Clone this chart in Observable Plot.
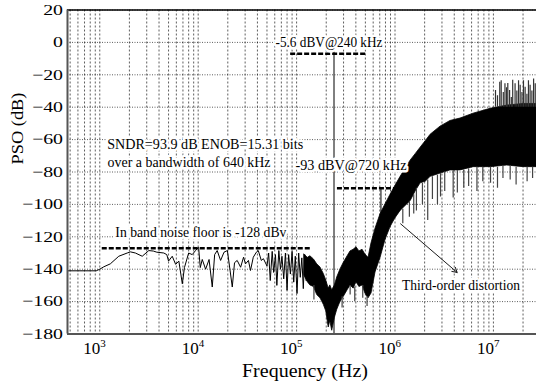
<!DOCTYPE html>
<html><head><meta charset="utf-8">
<script src="https://cdn.jsdelivr.net/npm/d3@7"></script>
<script src="https://cdn.jsdelivr.net/npm/@observablehq/plot@0.6"></script>
<style>body{margin:0;background:#fff}svg{display:block}svg text{font-family:"Liberation Serif","Times New Roman",serif !important;}</style>
</head><body><div id="chart"></div>
<script>
// ---- axes ----
const xDomain = [470, 2.74e7];
const yDomain = [-180, 20];
const xTickValues = [1e3, 1e4, 1e5, 1e6, 1e7];
const yTickValues = [-180, -160, -140, -120, -100, -80, -60, -40, -20, 0, 20];

// ---- low-frequency single trace (Hz, dB) ----
const lineF  = [470, 600, 800, 920, 1000, 1100, 1280, 1560, 1900, 2050, 2300, 2700, 3150, 3500, 3800, 4470, 4800, 5000, 5450, 5900, 6360, 6900, 7250, 8000, 8700, 9400, 10100, 10500, 11000, 11900, 12900, 13900, 14700, 15600, 16900, 18300, 19800, 20800, 22200, 23400, 24900, 27000, 28900, 30300, 32400, 34000, 36300, 39000, 40800, 43800, 46000, 50000, 52000, 54000, 56500, 58500, 61000, 63000, 66000, 68500, 71000, 74000, 77000, 80000, 83000, 86500, 90000, 93500, 97000, 101000, 105000, 109000, 113000, 117000, 121000, 125000];
const lineDb = [-141, -141, -141, -141, -140, -138.5, -136.7, -132, -130, -129.3, -130, -132, -128.5, -128.8, -129.5, -130, -131, -135, -132, -137, -135, -149, -139, -130, -131, -128.5, -126.5, -139, -134, -140, -134, -151, -131, -128.5, -134.6, -129.5, -128.5, -138, -151, -136, -134.6, -138.8, -132.6, -136.7, -134.6, -140.8, -132.6, -129.5, -128.5, -134.6, -133.5, -138, -130, -147, -129, -142, -131, -150, -128.5, -140, -132, -146, -130, -153, -131, -143, -129, -148, -132, -155, -130, -145, -133, -152, -131, -147];

// ---- dense spectrum band: frequency, upper and lower envelope (dB) ----
const bandF  = [1.2e5, 1.3e5, 1.38e5, 1.5e5, 1.62e5, 1.75e5, 1.89e5, 2.0e5, 2.12e5, 2.2e5, 2.3e5, 2.45e5, 2.59e5, 2.8e5, 3.02e5, 3.3e5, 3.53e5, 3.8e5, 4.06e5, 4.35e5, 4.68e5, 5.0e5, 5.38e5, 5.77e5, 6.34e5, 7.13e5, 8.0e5, 9.01e5, 1.0e6, 1.14e6, 1.28e6, 1.44e6, 1.62e6, 1.82e6, 2.05e6, 2.3e6, 2.58e6, 2.9e6, 3.66e6, 4.63e6, 6.28e6, 9.35e6, 1.38e7, 2.02e7, 2.74e7];
const bandHi = [-131, -133, -132, -134, -137, -139, -143, -147, -152, -150, -153, -150, -145, -140, -136, -132, -129, -128, -126.5, -129, -128, -131, -133, -124, -115, -106, -100, -94, -89, -83, -78, -73, -69, -65, -61, -57, -54.5, -52, -48.5, -47, -44, -41, -39, -38, -38];
const bandLo = [-144, -148, -150, -151, -156, -158, -162, -166, -176, -172, -178, -170, -165, -160, -157, -153, -150, -152, -148, -151, -150, -155, -158, -155, -142, -133, -122, -114, -109, -104, -101, -98, -92, -87, -86, -83, -82, -81, -79, -79, -77, -77, -76, -77, -77];

// ---- downward spikes (Hz, from dB, to dB) ----
const downF    = [1.5e5, 2.9e5, 3.5e5, 3.9e5, 4.7e5, 5.2e5, 1.2e6, 1.4e6, 1.55e6, 1.65e6, 1.9e6, 2.15e6, 2.4e6, 2.7e6, 2.9e6, 3.2e6, 3.9e6, 4.3e6, 5.0e6, 5.6e6, 6.8e6, 7.8e6, 9.35e6, 1.1e7, 1.25e7, 1.48e7, 1.7e7, 2.2e7, 2.5e7];
const downFrom = [-150, -157, -150, -151, -150, -157, -103, -98, -94, -90, -87, -85, -83, -82, -81, -80, -79, -79, -79, -78, -77, -77, -77, -77, -76, -76, -77, -77, -77];
const downTo   = [-159, -164, -156, -160, -158, -163, -112, -108, -106, -104, -100, -110, -97, -100, -95.5, -92, -96, -93, -90, -89, -92, -86, -87, -90, -84, -85, -88, -86, -84];

// ---- upward spikes at high frequency (Hz, top dB) ----
const upF   = [1.05e7, 1.1e7, 1.16e7, 1.2e7, 1.26e7, 1.31e7, 1.36e7, 1.4e7, 1.46e7, 1.52e7, 1.57e7, 1.66e7, 1.73e7, 1.8e7, 1.87e7, 1.95e7, 2.02e7, 2.1e7, 2.19e7, 2.27e7, 2.36e7, 2.46e7, 2.56e7, 2.66e7];
const upTop = [-29.7, -33, -24.6, -23.7, -31, -25.6, -28, -25.3, -29.7, -34, -23.3, -25.6, -30, -23.7, -26.5, -31, -23.7, -27.7, -32, -23.7, -26.5, -30, -22.6, -25.6];

// ---- tones (Hz, top dB) ----
const toneF   = [2.4e5, 7.2e5];
const toneTop = [-6, -90];
const toneBot = [-180, -106];

// ---- dashed reference levels (dB, from Hz, to Hz) ----
const dashDb = [-127, -7, -90];
const dashF1 = [1.06e3, 8.7e4, 2.6e5];
const dashF2 = [1.44e5, 5.2e5, 1.04e6];

// ---- annotation texts (label, Hz at left edge, dB) ----
const noteText = ["SNDR=93.9 dB ENOB=15.31 bits", "over a bandwidth of 640 kHz", "-5.6 dBV@240 kHz", "-93 dBV@720 kHz", "In band noise floor is -128 dBv", "Third-order distortion"];
const noteF  = [1.19e3, 1.2e3, 6.1e4, 9.75e4, 1.44e3, 1.18e6];
const noteDb = [-63, -73.6, 0, -76, -117.3, -149.5];
const noteW  = [196, 163, 107, 111, 171, 118];

// ---- arrow (Hz, dB) ----
const arrowFrom = [1.14e6, -112];
const arrowTo   = [4.28e6, -142];

const xTitle = "Frequency (Hz)";
const yTitle = "PSO (dB)";

// build tables
const lineData = lineF.map((f, i) => ({f, db: lineDb[i]}));
const band = bandF.map((f, i) => ({f, hi: bandHi[i], lo: bandLo[i]}));
const downs = downF.map((f, i) => ({f, a: downFrom[i], b: downTo[i]}));
const ups = upF.map((f, i) => ({f, t: upTop[i]}));
const tones = toneF.map((f, i) => ({f, t: toneTop[i], b: toneBot[i]}));
const dashes = dashDb.map((d, i) => ({d, f1: dashF1[i], f2: dashF2[i]}));
const notes = noteText.map((t, i) => ({t, f: noteF[i], d: noteDb[i]}));

const xGridTicks = [];
for (let k = 2; k <= 7; k++) for (let m = 1; m <= 9; m++) {
  const v = m * Math.pow(10, k);
  if (v >= xDomain[0] && v <= xDomain[1]) xGridTicks.push(v);
}

const chart = Plot.plot({
  width: 536, height: 384,
  marginLeft: 67, marginRight: 0, marginTop: 9.5, marginBottom: 50.5,
  style: {fontFamily: "Liberation Serif", background: "#fff", color: "#000"},
  x: {type: "log", domain: xDomain},
  y: {domain: yDomain},
  marks: [
    Plot.gridX(xGridTicks, {stroke: "#000", strokeOpacity: 0.8, strokeWidth: 0.8, strokeDasharray: "2,2"}),
    Plot.gridY(yTickValues, {stroke: "#000", strokeOpacity: 0.8, strokeWidth: 0.8, strokeDasharray: "1,1.5"}),
    Plot.line(lineData, {x: "f", y: "db", stroke: "#000", strokeWidth: 1, clip: true}),
    Plot.areaY(band, {x: "f", y1: "lo", y2: "hi", fill: "#000", stroke: "#000", strokeWidth: 0.8, clip: true}),
    Plot.ruleX(downs, {x: "f", y1: "a", y2: "b", stroke: "#444", strokeWidth: 1.2, clip: true}),
    Plot.ruleX(ups, {x: "f", y1: -40, y2: "t", stroke: "#333", strokeWidth: 1.2, clip: true}),
    Plot.ruleX(tones, {x: "f", y1: "b", y2: "t", stroke: "#000", strokeWidth: 1}),
    Plot.ruleY(dashes, {y: "d", x1: "f1", x2: "f2", stroke: "#000", strokeWidth: 2.5, strokeDasharray: "5,2"}),
    Plot.arrow([0], {x1: arrowFrom[0], y1: arrowFrom[1], x2: arrowTo[0], y2: arrowTo[1], stroke: "#000", strokeWidth: 0.9, headLength: 9}),
    Plot.text(notes, {x: "f", y: "d", text: "t", textAnchor: "start", lineAnchor: "middle", fontSize: 15.5, fill: "#000", stroke: "#fff", strokeWidth: 5, paintOrder: "stroke"}),
    Plot.axisY(yTickValues, {tickSize: 0, tickPadding: 4.5, fontSize: 15, label: null}),
    Plot.axisX(xTickValues, {tickSize: 0, tickPadding: 8, fontSize: 17, label: null, textAnchor: "start", dx: -16.5, tickFormat: d => "10^" + Math.round(Math.log10(d))}),
    Plot.text([xTitle], {frameAnchor: "bottom", dx: 3, dy: 37.3, fontSize: 19, lineAnchor: "middle"}),
    Plot.text([yTitle], {frameAnchor: "left", rotate: -90, dx: -49.5, dy: -7.5, fontSize: 17, lineAnchor: "middle"}),
    Plot.ruleY([20], {stroke: "#000", strokeWidth: 1.5}),
    Plot.ruleY([-180], {stroke: "#555", strokeWidth: 2}),
    Plot.ruleX([xDomain[0]], {stroke: "#555", strokeWidth: 2})
  ]
});
document.getElementById("chart").appendChild(chart);

// superscript exponents on x tick labels
d3.select(chart).selectAll('g[aria-label="x-axis tick label"] text').each(function() {
  const s = this.textContent;
  const m = s.match(/10\^(\d+)/);
  if (!m) return;
  const t = d3.select(this);
  t.text("");
  t.append("tspan").text("10");
  t.append("tspan").attr("dy", "-6.6").attr("font-size", "11").text(m[1]);
});
// horizontally widened y tick labels (as in reference)
d3.select(chart).selectAll('g[aria-label="y-axis tick label"] text').each(function() {
  const w = this.getComputedTextLength();
  this.setAttribute("textLength", (w * 1.32).toFixed(1));
  this.setAttribute("lengthAdjust", "spacingAndGlyphs");
});
// match annotation text widths
const widthMap = new Map(noteText.map((t, i) => [t, noteW[i]]));
widthMap.set(xTitle, 126); widthMap.set(yTitle, 72);
d3.select(chart).selectAll("text").each(function() {
  const w = widthMap.get(this.textContent);
  if (w) { this.setAttribute("textLength", w); this.setAttribute("lengthAdjust", "spacingAndGlyphs"); }
});
</script>
</body></html>
